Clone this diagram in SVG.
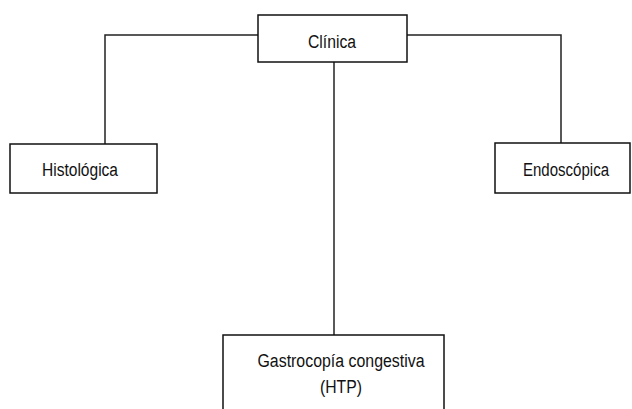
<svg xmlns="http://www.w3.org/2000/svg" width="632" height="409" viewBox="0 0 632 409">
<style>
.box{fill:#fff;stroke:#111;stroke-width:1.5}
.conn{fill:none;stroke:#222;stroke-width:1.5}
text{font-family:"Liberation Sans",Arial,sans-serif;font-size:18px;fill:#111;text-anchor:middle}
</style>
<rect width="632" height="409" fill="#fff"/>
<g id="connectors">
<polyline class="conn" points="259,35 105,35 105,144"/>
<polyline class="conn" points="406,35 561,35 561,143"/>
<line class="conn" x1="334" y1="62" x2="334" y2="335"/>
</g>
<g id="clinica">
<rect class="box" x="258" y="15" width="149" height="47"/>
<text x="332" y="48" textLength="48" lengthAdjust="spacingAndGlyphs">Clínica</text>
</g>
<g id="histologica">
<rect class="box" x="10" y="144" width="147" height="49"/>
<text x="80" y="176" textLength="76" lengthAdjust="spacingAndGlyphs">Histológica</text>
</g>
<g id="endoscopica">
<rect class="box" x="495" y="143" width="135" height="50"/>
<text x="566" y="176" textLength="86" lengthAdjust="spacingAndGlyphs">Endoscópica</text>
</g>
<g id="gastrocopia">
<rect class="box" x="223" y="335" width="221" height="90"/>
<text x="341" y="367" textLength="167" lengthAdjust="spacingAndGlyphs">Gastrocopía congestiva</text>
<text x="341" y="393" textLength="42" lengthAdjust="spacingAndGlyphs">(HTP)</text>
</g>
</svg>
